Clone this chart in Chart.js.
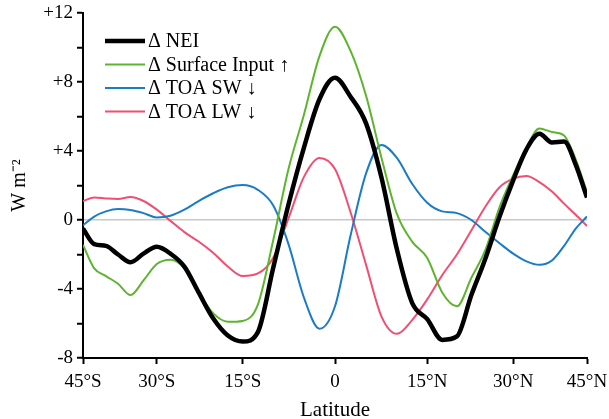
<!DOCTYPE html>
<html>
<head>
<meta charset="utf-8">
<script src="https://cdn.jsdelivr.net/npm/chart.js@4"></script>
<style>
  html, body { margin: 0; padding: 0; background: #fff; }
  #grafico { display: block; }
</style>
</head>
<body>
<canvas id="grafico" width="609" height="419"></canvas>
<script>
// latitudes (degrees, negative = south)
const latitudes = [-45, -42.5, -40, -37.5, -35, -32.5, -30, -27.5, -25, -22.5, -20, -17.5, -15, -12.5, -10, -7.5, -5, -2.5,
    0, 2.5, 5, 7.5, 10, 12.5, 15, 17.5, 20, 22.5, 25, 27.5, 30, 32.5, 35, 37.5, 40, 42.5, 45];

const nei = [-0.5, -1.4, -1.5, -2.0, -2.45, -1.95, -1.55, -1.95, -2.7, -4.2, -5.7, -6.7, -7.05, -6.5, -2.8, 0.9, 4.2, 7.0,
    8.25, 7.15, 5.6, 2.45, -1.7, -4.8, -5.75, -6.95, -6.75, -4.35, -2.2, 0.2, 2.3, 4.1, 5.0, 4.5, 4.55, 3.2, 1.3];

const surfaceInput = [-1.45, -2.8, -3.25, -3.7, -4.35, -3.5, -2.55, -2.3, -2.8, -4.2, -5.4, -5.9, -5.85, -4.9, -1.2, 2.95, 6.1, 9.5,
    11.2, 9.8, 7.2, 3.6, 0.35, -1.25, -2.2, -4.2, -5.0, -3.35, -1.7, 0.75, 2.6, 4.2, 5.3, 5.1, 4.9, 3.5, 1.6];

const toaSW = [-0.3, 0.2, 0.5, 0.64, 0.58, 0.4, 0.15, 0.25, 0.6, 1.1, 1.55, 1.9, 2.03, 1.75, 0.85, -1.4, -4.5, -6.3,
    -5.0, -0.9, 2.7, 4.35, 3.6, 2.1, 1.0, 0.5, 0.4, 0.0, -0.7, -1.35, -1.95, -2.4, -2.6, -2.35, -1.5, -0.5, 0.2];

const toaLW = [1.1, 1.3, 1.25, 1.22, 1.33, 1.1, 0.6, -0.05, -0.7, -1.25, -1.9, -2.7, -3.25, -3.1, -2.2, 0.1, 2.5, 3.6,
    2.95, 0.45, -2.6, -5.6, -6.6, -5.8, -4.6, -3.2, -2.0, -0.6, 0.8, 1.9, 2.4, 2.55, 2.2, 1.65, 0.95, 0.3, -0.35];

const xTickLats = [-45, -30, -15, 0, 15, 30, 45];
const xTickLabels = ['45°S', '30°S', '15°S', '0', '15°N', '30°N', '45°N'];

// eje en seno de la latitud
function senoLat(lat) {
    return Math.sin(lat * Math.PI / 180);
}

function puntos(valores) {
    return latitudes.map((lat, i) => ({ x: senoLat(lat), y: valores[i] }));
}

const fuente = 'Liberation Serif, Times New Roman, serif';

// leyenda dentro del area, arriba a la izquierda
const leyendaInterna = {
    id: 'leyendaInterna',
    afterDraw(chart) {
        const ctx = chart.ctx;
        const area = chart.chartArea;
        const x0 = area.left + 22;
        const y0 = area.top + 28;
        ctx.save();
        ctx.font = '20px ' + fuente;
        ctx.textBaseline = 'middle';
        ctx.textAlign = 'left';
        chart.data.datasets.forEach((ds, i) => {
            const y = y0 + i * 23.5;
            ctx.beginPath();
            ctx.strokeStyle = ds.borderColor;
            ctx.lineWidth = ds.borderWidth;
            ctx.moveTo(x0, y);
            ctx.lineTo(x0 + 40, y);
            ctx.stroke();
            ctx.fillStyle = '#000';
            ctx.fillText(ds.label, x0 + 43, y + 1);
        });
        ctx.restore();
    }
};

const serie = (label, valores, color, ancho) => ({
    label: label,
    data: puntos(valores),
    borderColor: color,
    backgroundColor: 'transparent',
    borderWidth: ancho,
    pointRadius: 0,
    cubicInterpolationMode: 'monotone',
    fill: false
});

new Chart(document.getElementById('grafico'), {
    type: 'line',
    data: {
        datasets: [
            serie('Δ NEI', nei, '#000000', 4.5),
            serie('Δ Surface Input ↑', surfaceInput, '#5db52e', 2),
            serie('Δ TOA SW ↓', toaSW, '#1b7cc6', 2),
            serie('Δ TOA LW ↓', toaLW, '#f04f72', 2)
        ]
    },
    options: {
        responsive: false,
        animation: false,
        devicePixelRatio: 1,
        layout: { padding: { top: 13, right: 22, left: 0, bottom: 0 } },
        plugins: {
            legend: { display: false },
            tooltip: { enabled: false }
        },
        scales: {
            x: {
                type: 'linear',
                min: senoLat(-45),
                max: senoLat(45),
                afterBuildTicks: function(scale) {
                    scale.ticks = xTickLats.map(l => ({ value: senoLat(l) }));
                },
                afterFit: function(scale) {
                    scale.height = 61;
                    scale.paddingLeft = 0;
                    scale.paddingRight = 0;
                },
                ticks: {
                    autoSkip: false,
                    maxRotation: 0,
                    padding: 7,
                    color: '#000',
                    font: { family: fuente, size: 19 },
                    callback: function(value, index) {
                        return xTickLabels[index];
                    }
                },
                grid: {
                    drawOnChartArea: false,
                    tickLength: 6,
                    tickColor: '#000',
                    tickWidth: 2
                },
                border: { display: true, color: '#000', width: 2 },
                title: {
                    display: true,
                    text: 'Latitude',
                    color: '#000',
                    font: { family: fuente, size: 21 },
                    padding: { top: 0, bottom: -4 }
                }
            },
            y: {
                min: -8,
                max: 12,
                afterFit: function(scale) {
                    scale.width = 83;
                    scale.paddingTop = 0;
                    scale.paddingBottom = 0;
                },
                ticks: {
                    stepSize: 2,
                    padding: 4,
                    color: '#000',
                    font: { family: fuente, size: 19 },
                    callback: function(value) {
                        if (value % 4 !== 0) return '';
                        return value > 0 ? '+' + value : String(value);
                    }
                },
                grid: {
                    drawOnChartArea: true,
                    color: ctx => (ctx.tick && ctx.tick.value === 0) ? '#c8c8c8' : 'rgba(0,0,0,0)',
                    lineWidth: 1.5,
                    tickLength: 6,
                    tickColor: '#000',
                    tickWidth: 2
                },
                border: { display: true, color: '#000', width: 2 },
                title: {
                    display: true,
                    text: 'W m⁻²',
                    color: '#000',
                    font: { family: fuente, size: 20 },
                    padding: { top: 8, bottom: 0 }
                }
            }
        }
    },
    plugins: [leyendaInterna]
});
</script>
</body>
</html>
